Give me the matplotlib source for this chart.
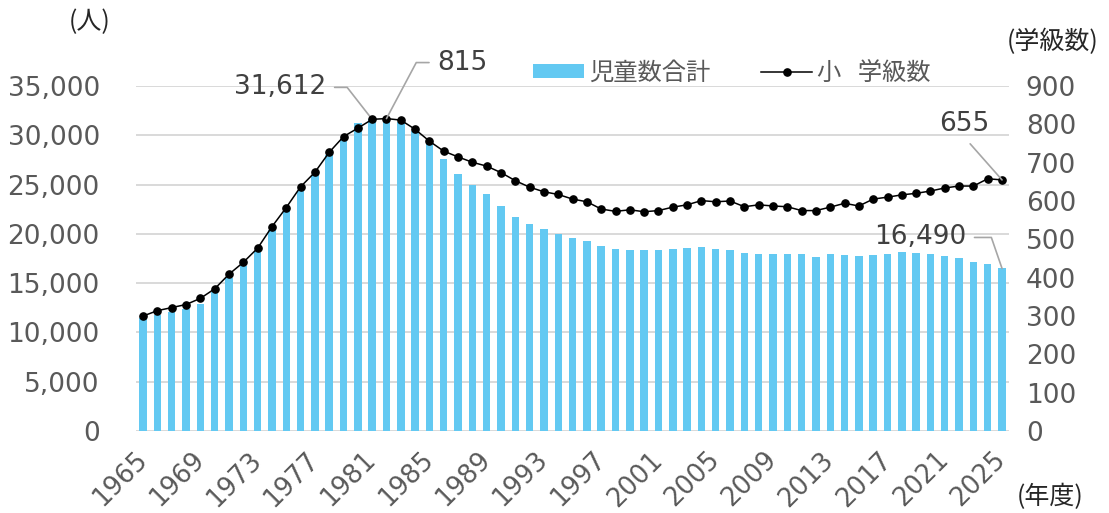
import matplotlib
matplotlib.use("Agg")
import matplotlib.pyplot as plt
import matplotlib.ticker as mticker
from matplotlib.patches import Patch
from matplotlib.lines import Line2D

plt.rcParams['font.family'] = ['Noto Sans CJK JP', 'DejaVu Sans']

years = list(range(1965, 2026))
children = [11430, 11770, 12040, 12340, 12850, 14070, 15490, 16740, 18260, 20390,
            22350, 24350, 25970, 28000, 29590, 31210, 31612, 31500, 31380, 30470,
            29120, 27590, 26040, 24920, 24010, 22790, 21680, 20970, 20490, 19990,
            19580, 19280, 18770, 18430, 18360, 18360, 18360, 18460, 18560, 18630,
            18500, 18360, 18060, 17990, 17990, 17920, 17920, 17650, 17920, 17850,
            17720, 17850, 17990, 18130, 18060, 17990, 17790, 17520, 17150, 16940,
            16490]
classes = [300, 314, 322, 330, 346, 371, 409, 440, 477, 533,
           583, 637, 675, 727, 768, 790, 813, 815, 811, 787,
           756, 730, 715, 701, 691, 674, 653, 636, 624, 617,
           605, 598, 579, 573, 577, 572, 575, 584, 590, 601,
           598, 600, 585, 590, 587, 585, 575, 575, 584, 594,
           587, 605, 610, 616, 620, 626, 634, 639, 639, 658,
           655]
left_ticks = [0, 5000, 10000, 15000, 20000, 25000, 30000, 35000]
right_ticks = [0, 100, 200, 300, 400, 500, 600, 700, 800, 900]
year_tick_labels = [str(y) for y in years[::4]]

BAR_C = '#63C9F2'
TXT_C = '#595959'
GRID_C = '#D9D9D9'
NUM_FONT = ['DejaVu Sans']
FS = 19

fig = plt.figure(figsize=(11.09, 5.13), dpi=100)
ax = fig.add_axes([0.1226, 0.1598, 0.7874, 0.6726])
ax2 = ax.twinx()

x = list(range(len(years)))
ax.bar(x, children, width=0.52, color=BAR_C, zorder=2)
ax2.plot(x, classes, color='black', lw=1.1, marker='o', ms=5.2, zorder=3)

ax.set_xlim(-0.5, len(years) - 0.5)
ax.set_ylim(0, 35000)
ax2.set_ylim(0, 900)
ax.set_yticks(left_ticks)
ax2.set_yticks(right_ticks)
ax.yaxis.set_major_formatter(mticker.FuncFormatter(lambda v, p: f"{int(v):,}"))
ax.grid(axis='y', color=GRID_C, lw=1.4, zorder=0)
ax.set_axisbelow(True)
ax.set_xticks(x[::4])
ax.set_xticklabels(year_tick_labels, rotation=45, ha='right', va='center',
                   rotation_mode='anchor')

for a in (ax, ax2):
    for s in a.spines.values():
        s.set_visible(False)
    a.tick_params(length=0, labelsize=FS, colors=TXT_C)
    for lab in a.get_yticklabels() + a.get_xticklabels():
        lab.set_family(NUM_FONT)
for lab in ax.get_xticklabels():
    lab.set_fontsize(18.5)
ax.tick_params(axis='y', pad=26)
ax2.tick_params(axis='y', pad=12)
ax.tick_params(axis='x', pad=18)

# unit labels
fig.text(90 / 1109, 1 - 22 / 513, '(人)', fontsize=18, color='#262626', ha='center', va='center')
fig.text(1053 / 1109, 1 - 42 / 513, '(学級数)', fontsize=18, color='#262626', ha='center', va='center')
fig.text(1050 / 1109, 1 - 497 / 513, '(年度)', fontsize=18, color='#262626', ha='center', va='center')

# annotations
lc = '#A6A6A6'
i_peak_c = children.index(max(children))
i_peak_k = classes.index(max(classes))
i_last = len(years) - 1
ann_kw = dict(textcoords='offset pixels', fontsize=FS, color='#404040', family=NUM_FONT,
              ha='center', va='center')
ax.annotate(f"{children[i_peak_c]:,}", xy=(i_peak_c, children[i_peak_c]), xytext=(-92, 32),
            arrowprops=dict(arrowstyle='-', color=lc, lw=1.2, relpos=(1, 0.5), shrinkA=4, shrinkB=0,
                            connectionstyle='angle,angleA=0,angleB=128,rad=0'), **ann_kw)
ax2.annotate(f"{classes[i_peak_k]}", xy=(i_peak_k, classes[i_peak_k]), xytext=(76, 56),
             arrowprops=dict(arrowstyle='-', color=lc, lw=1.2, relpos=(0, 0.5), shrinkA=4, shrinkB=0,
                             connectionstyle='angle,angleA=180,angleB=62,rad=0'), **ann_kw)
ax2.annotate(f"{classes[i_last]}", xy=(i_last, classes[i_last]), xytext=(-38, 56),
             arrowprops=dict(arrowstyle='-', color=lc, lw=1.2, relpos=(0.5, 0), shrinkA=4, shrinkB=0),
             **ann_kw)
ax.annotate(f"{children[i_last]:,}", xy=(i_last, children[i_last]), xytext=(-82, 31),
            arrowprops=dict(arrowstyle='-', color=lc, lw=1.2, relpos=(1, 0.5), shrinkA=4, shrinkB=0,
                            connectionstyle='angle,angleA=0,angleB=109,rad=0'), **ann_kw)

# legend
handles = [Patch(facecolor=BAR_C, edgecolor='none'),
           Line2D([], [], color='black', lw=1.1, marker='o', ms=5.2)]
fig.legend(handles, ['児童数合計', '小   学級数'], loc='center', bbox_to_anchor=(0.660, 0.858),
           ncol=2, frameon=False, fontsize=17.5, handlelength=2.1, handleheight=0.5,
           handletextpad=0.2, columnspacing=2.1, labelcolor=TXT_C)

fig.savefig('out.png', dpi=100)
